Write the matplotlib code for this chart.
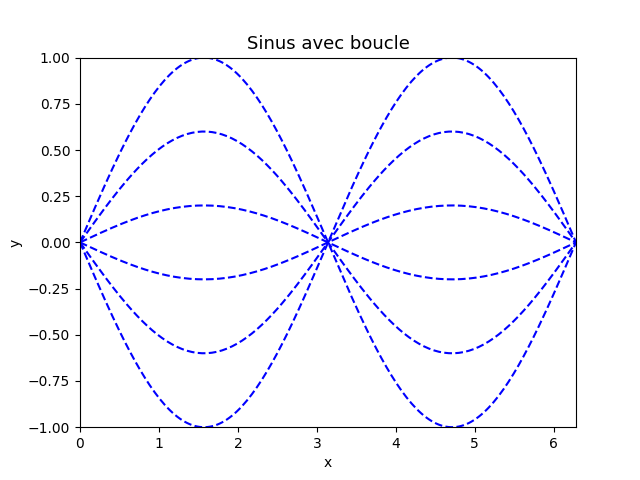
import numpy as np
import matplotlib
matplotlib.use("Agg")
import matplotlib.pyplot as plt

# amplitudes of the curves a*sin(x)
amplitudes = [1.0, 0.6, 0.2, -0.2, -0.6, -1.0]
x = np.linspace(0, 2 * np.pi, 200)

fig, ax = plt.subplots(figsize=(6.4, 4.8), dpi=100)
for a in amplitudes:
    ax.plot(x, a * np.sin(x), 'b--')
ax.set_xlim(0, 2 * np.pi)
ax.set_ylim(-1, 1)
ax.set_xlabel('x')
ax.set_ylabel('y')
ax.set_title('Sinus avec boucle', fontsize=13)
fig.savefig('out.png')
